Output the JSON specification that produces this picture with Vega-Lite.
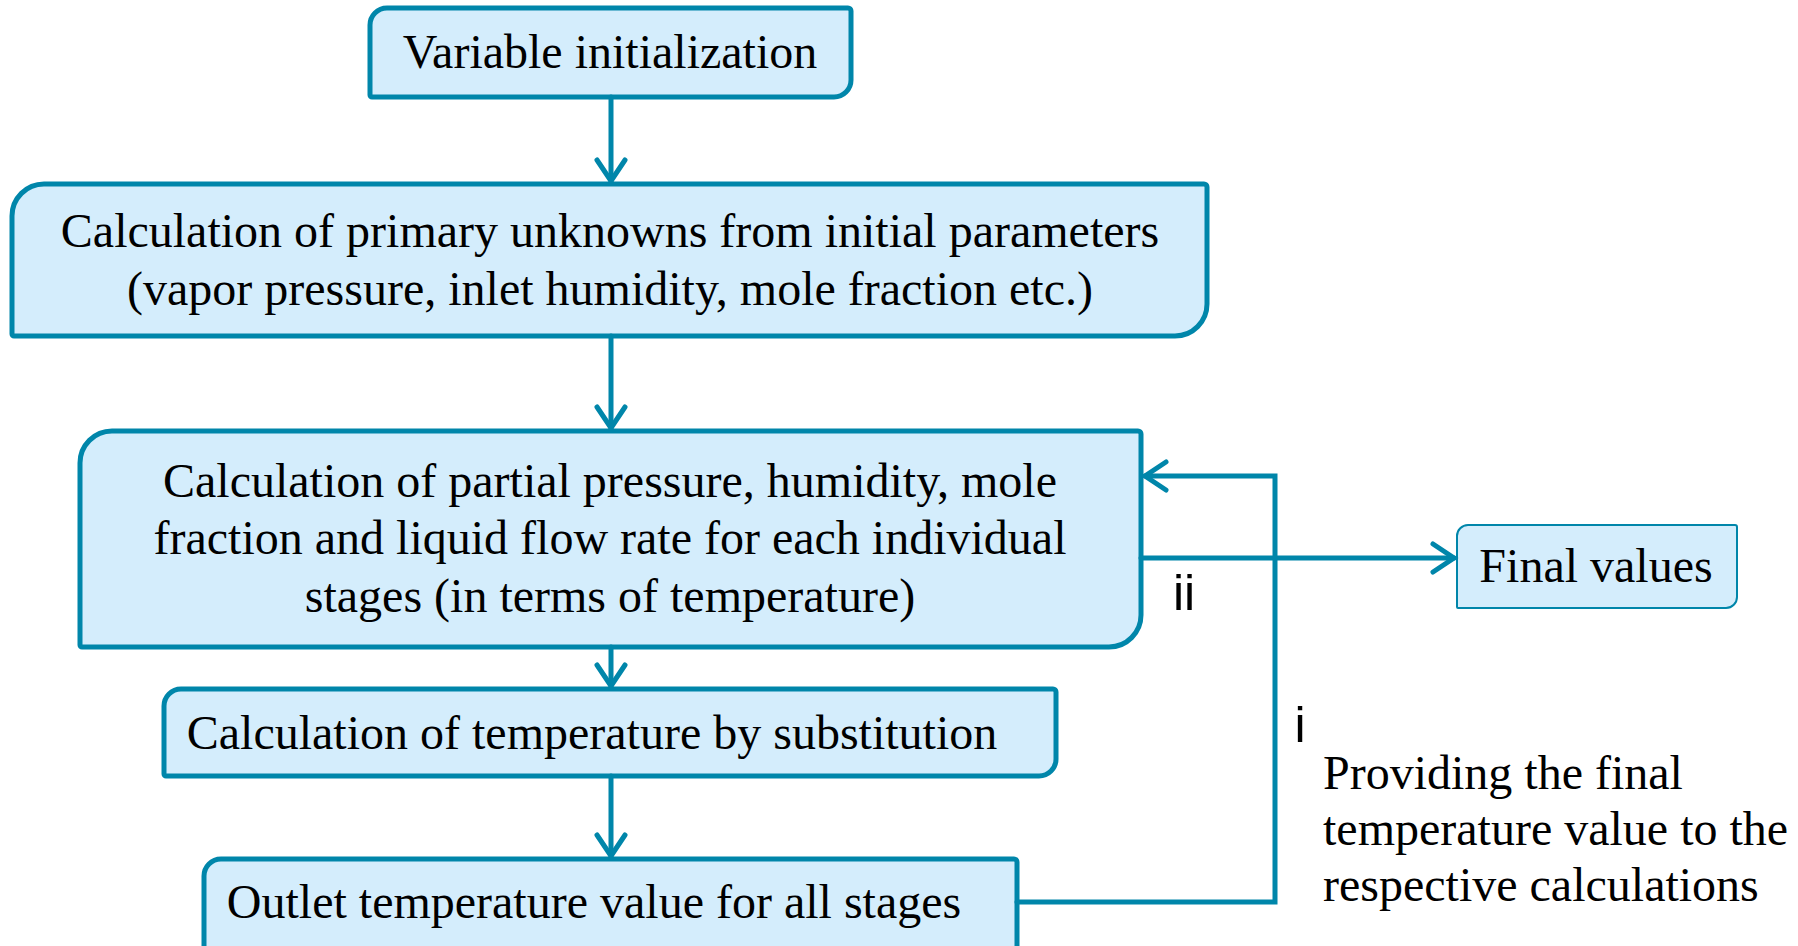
{
  "$schema": "https://vega.github.io/schema/vega-lite/v6.json",
  "width": 1798,
  "height": 946,
  "autosize": {"type": "fit", "contains": "padding"},
  "padding": 0,
  "background": "white",
  "config": {"view": {"stroke": null}},
  "datasets": {
    "boxes": [
      {"id": "b1", "grp": "small", "x1": 370, "x2": 851, "y1": 8, "y2": 97},
      {"id": "b2", "grp": "big", "x1": 12, "x2": 1207, "y1": 184, "y2": 336},
      {"id": "b3", "grp": "big", "x1": 80, "x2": 1141, "y1": 431, "y2": 647},
      {"id": "b4", "grp": "small", "x1": 164, "x2": 1056, "y1": 689, "y2": 776},
      {"id": "b5", "grp": "small", "x1": 204, "x2": 1017, "y1": 859, "y2": 980},
      {"id": "b6", "grp": "final", "x1": 1457, "x2": 1737, "y1": 525, "y2": 608}
    ],
    "paths": [
      {"p": "a", "o": 1, "x": 611, "y": 97}, {"p": "a", "o": 2, "x": 611, "y": 181},
      {"p": "ah", "o": 1, "x": 597, "y": 160}, {"p": "ah", "o": 2, "x": 611, "y": 181}, {"p": "ah", "o": 3, "x": 625, "y": 160},
      {"p": "b", "o": 1, "x": 611, "y": 336}, {"p": "b", "o": 2, "x": 611, "y": 428},
      {"p": "bh", "o": 1, "x": 597, "y": 407}, {"p": "bh", "o": 2, "x": 611, "y": 428}, {"p": "bh", "o": 3, "x": 625, "y": 407},
      {"p": "c", "o": 1, "x": 611, "y": 647}, {"p": "c", "o": 2, "x": 611, "y": 686},
      {"p": "ch", "o": 1, "x": 597, "y": 665}, {"p": "ch", "o": 2, "x": 611, "y": 686}, {"p": "ch", "o": 3, "x": 625, "y": 665},
      {"p": "d", "o": 1, "x": 611, "y": 776}, {"p": "d", "o": 2, "x": 611, "y": 856},
      {"p": "dh", "o": 1, "x": 597, "y": 835}, {"p": "dh", "o": 2, "x": 611, "y": 856}, {"p": "dh", "o": 3, "x": 625, "y": 835},
      {"p": "fb", "o": 1, "x": 1017, "y": 902}, {"p": "fb", "o": 2, "x": 1275, "y": 902}, {"p": "fb", "o": 3, "x": 1275, "y": 476}, {"p": "fb", "o": 4, "x": 1145, "y": 476},
      {"p": "fbh", "o": 1, "x": 1166, "y": 462}, {"p": "fbh", "o": 2, "x": 1145, "y": 476}, {"p": "fbh", "o": 3, "x": 1166, "y": 490},
      {"p": "out", "o": 1, "x": 1141, "y": 558}, {"p": "out", "o": 2, "x": 1454, "y": 558},
      {"p": "outh", "o": 1, "x": 1433, "y": 544}, {"p": "outh", "o": 2, "x": 1454, "y": 558}, {"p": "outh", "o": 3, "x": 1433, "y": 572}
    ],
    "labels": [
      {"kind": "c", "x": 610, "y": 68, "t": "Variable initialization"},
      {"kind": "c", "x": 610, "y": 247, "t": "Calculation of primary unknowns from initial parameters"},
      {"kind": "c", "x": 610, "y": 305, "t": "(vapor pressure, inlet humidity, mole fraction etc.)"},
      {"kind": "c", "x": 610, "y": 497, "t": "Calculation of partial pressure, humidity, mole"},
      {"kind": "c", "x": 610, "y": 554, "t": "fraction and liquid flow rate for each individual"},
      {"kind": "c", "x": 610, "y": 612, "t": "stages (in terms of temperature)"},
      {"kind": "c", "x": 592, "y": 749, "t": "Calculation of temperature by substitution"},
      {"kind": "c", "x": 594, "y": 918, "t": "Outlet temperature value for all stages"},
      {"kind": "c", "x": 1596, "y": 582, "t": "Final values"},
      {"kind": "l", "x": 1323, "y": 789, "t": "Providing the final"},
      {"kind": "l", "x": 1323, "y": 845, "t": "temperature value to the"},
      {"kind": "l", "x": 1323, "y": 901, "t": "respective calculations"},
      {"kind": "s", "x": 1184, "y": 610, "t": "ii"},
      {"kind": "s", "x": 1300, "y": 742, "t": "i"}
    ]
  },
  "layer": [
    {
      "data": {"name": "boxes"},
      "transform": [{"filter": "datum.grp === 'big'"}],
      "mark": {"type": "rect", "clip": true, "fill": "#D4EDFC", "stroke": "#0086AA", "strokeWidth": 5, "cornerRadiusTopLeft": 32, "cornerRadiusBottomRight": 32, "cornerRadiusTopRight": 3, "cornerRadiusBottomLeft": 2},
      "encoding": {
        "x": {"field": "x1", "type": "quantitative", "scale": {"domain": [0, 1798], "nice": false, "zero": false}, "axis": null},
        "x2": {"field": "x2"},
        "y": {"field": "y1", "type": "quantitative", "scale": {"domain": [0, 946], "nice": false, "zero": false, "reverse": true}, "axis": null},
        "y2": {"field": "y2"}
      }
    },
    {
      "data": {"name": "boxes"},
      "transform": [{"filter": "datum.grp === 'small'"}],
      "mark": {"type": "rect", "clip": true, "fill": "#D4EDFC", "stroke": "#0086AA", "strokeWidth": 5, "cornerRadiusTopLeft": 17, "cornerRadiusBottomRight": 17, "cornerRadiusTopRight": 3, "cornerRadiusBottomLeft": 2},
      "encoding": {
        "x": {"field": "x1", "type": "quantitative", "axis": null},
        "x2": {"field": "x2"},
        "y": {"field": "y1", "type": "quantitative", "axis": null},
        "y2": {"field": "y2"}
      }
    },
    {
      "data": {"name": "boxes"},
      "transform": [{"filter": "datum.grp === 'final'"}],
      "mark": {"type": "rect", "clip": true, "fill": "#D4EDFC", "stroke": "#0086AA", "strokeWidth": 2, "cornerRadiusTopLeft": 11, "cornerRadiusBottomRight": 11, "cornerRadiusTopRight": 2, "cornerRadiusBottomLeft": 1},
      "encoding": {
        "x": {"field": "x1", "type": "quantitative", "axis": null},
        "x2": {"field": "x2"},
        "y": {"field": "y1", "type": "quantitative", "axis": null},
        "y2": {"field": "y2"}
      }
    },
    {
      "data": {"name": "paths"},
      "mark": {"type": "line", "stroke": "#0086AA", "strokeWidth": 5, "strokeCap": "round", "strokeJoin": "miter"},
      "encoding": {
        "x": {"field": "x", "type": "quantitative", "axis": null},
        "y": {"field": "y", "type": "quantitative", "axis": null},
        "detail": {"field": "p"},
        "order": {"field": "o", "type": "quantitative"}
      }
    },
    {
      "data": {"name": "labels"},
      "transform": [{"filter": "datum.kind === 'c'"}],
      "mark": {"type": "text", "font": "Liberation Serif", "fontSize": 48, "align": "center", "baseline": "alphabetic", "color": "black"},
      "encoding": {
        "x": {"field": "x", "type": "quantitative", "axis": null},
        "y": {"field": "y", "type": "quantitative", "axis": null},
        "text": {"field": "t"}
      }
    },
    {
      "data": {"name": "labels"},
      "transform": [{"filter": "datum.kind === 'l'"}],
      "mark": {"type": "text", "font": "Liberation Serif", "fontSize": 48, "align": "left", "baseline": "alphabetic", "color": "black"},
      "encoding": {
        "x": {"field": "x", "type": "quantitative", "axis": null},
        "y": {"field": "y", "type": "quantitative", "axis": null},
        "text": {"field": "t"}
      }
    },
    {
      "data": {"name": "labels"},
      "transform": [{"filter": "datum.kind === 's'"}],
      "mark": {"type": "text", "font": "Liberation Sans", "fontSize": 50, "align": "center", "baseline": "alphabetic", "color": "black"},
      "encoding": {
        "x": {"field": "x", "type": "quantitative", "axis": null},
        "y": {"field": "y", "type": "quantitative", "axis": null},
        "text": {"field": "t"}
      }
    }
  ]
}
